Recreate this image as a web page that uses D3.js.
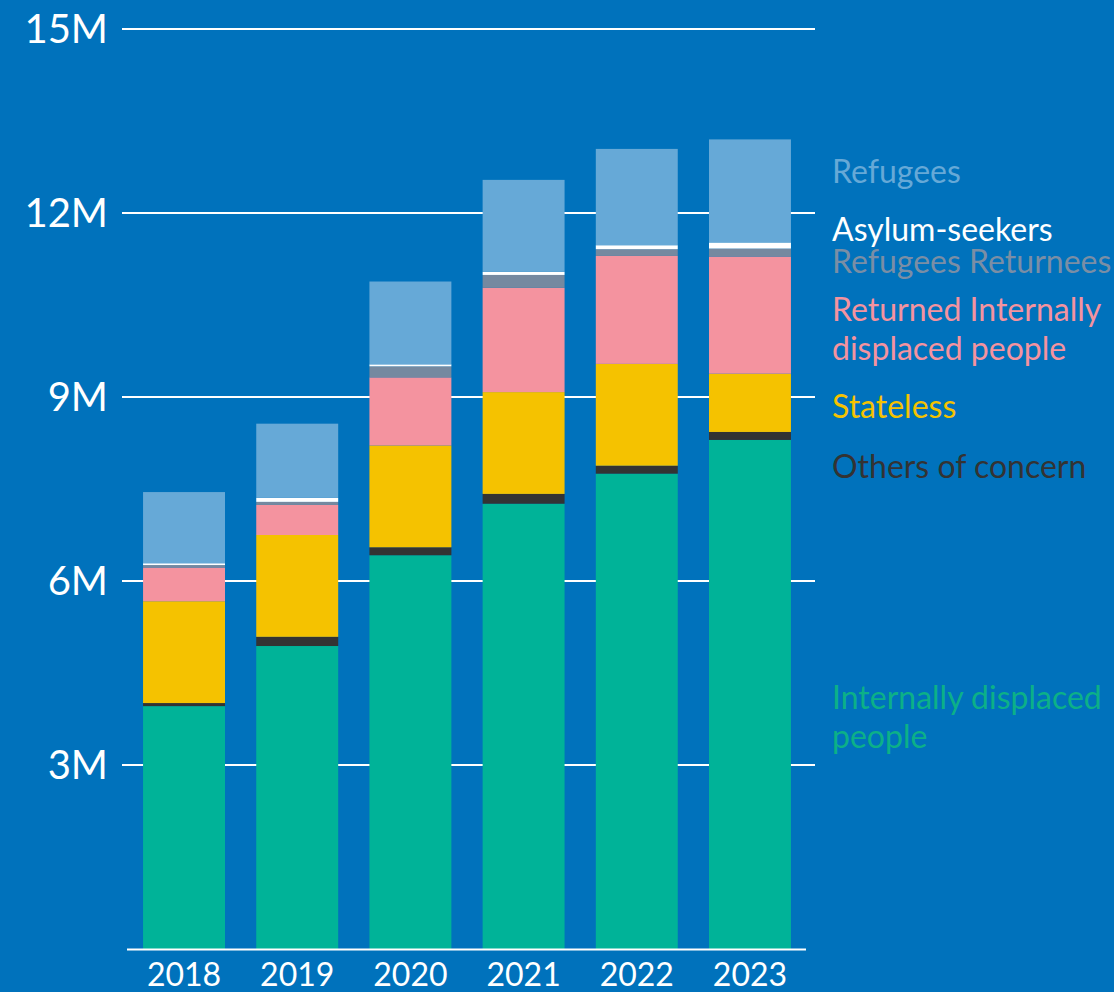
<!DOCTYPE html>
<html>
<head>
<meta charset="utf-8">
<script src="https://cdn.jsdelivr.net/npm/d3@7"></script>
<style>
  html, body { margin: 0; padding: 0; background: #0072BC; }
  svg { display: block; font-family: Lato, "Open Sans", sans-serif; }
</style>
</head>
<body>
<script>
// data (millions of people)
var years = ["2018", "2019", "2020", "2021", "2022", "2023"];
var idp = [3.96, 4.94, 6.42, 7.26, 7.75, 8.30];
var others = [0.05, 0.15, 0.13, 0.16, 0.13, 0.13];
var stateless = [1.66, 1.66, 1.66, 1.66, 1.66, 0.95];
var returnedIdp = [0.55, 0.49, 1.11, 1.70, 1.76, 1.91];
var refugeeReturnees = [0.04, 0.05, 0.18, 0.21, 0.11, 0.13];
var asylumSeekers = [0.03, 0.065, 0.033, 0.05, 0.065, 0.10];
var refugees = [1.16, 1.21, 1.35, 1.50, 1.57, 1.68];
var yTicks = [3, 6, 9, 12, 15];

var seriesKeys = ["idp", "others", "stateless", "returnedIdp", "refugeeReturnees", "asylumSeekers", "refugees"];
var seriesValues = [idp, others, stateless, returnedIdp, refugeeReturnees, asylumSeekers, refugees];
var fills = ["#00B398", "#333333", "#F5C200", "#F4939F", "#7589A0", "#FFFFFF", "#66A9D7"];

var legendItems = [
  { lines: ["Refugees"], color: "#66A9D7", y: 183 },
  { lines: ["Asylum-seekers"], color: "#FFFFFF", y: 241 },
  { lines: ["Refugees Returnees"], color: "#7A8EA5", y: 273 },
  { lines: ["Returned Internally", "displaced people"], color: "#F4939F", y: 321 },
  { lines: ["Stateless"], color: "#F5C200", y: 418 },
  { lines: ["Others of concern"], color: "#333333", y: 478 },
  { lines: ["Internally displaced", "people"], color: "#0CB088", y: 709 }
];

var width = 1114,
  height = 992;

var table = years.map(function (yr, i) {
  var row = { year: yr };
  seriesKeys.forEach(function (k, j) { row[k] = seriesValues[j][i]; });
  return row;
});

var stack = d3.stack().keys(seriesKeys);
var layers = stack(table);

var x = d3.scaleBand()
  .domain(years)
  .range([128, 806])
  .paddingInner(0.276)
  .paddingOuter(0.133);

var y = d3.scaleLinear()
  .domain([0, 15])
  .range([949, 29]);

var svg = d3.select("body").append("svg")
  .attr("width", width)
  .attr("height", height);

svg.append("rect")
  .attr("width", width)
  .attr("height", height)
  .attr("fill", "#0072BC");

// grid lines
var grid = svg.append("g");
grid.selectAll("line")
  .data(yTicks)
  .enter().append("line")
  .attr("x1", 122)
  .attr("x2", 815)
  .attr("y1", function (d) { return y(d); })
  .attr("y2", function (d) { return y(d); })
  .attr("stroke", "#FFFFFF")
  .attr("stroke-width", 2);

grid.selectAll("text")
  .data(yTicks)
  .enter().append("text")
  .attr("x", 108)
  .attr("y", function (d) { return y(d); })
  .attr("dy", "0.36em")
  .attr("text-anchor", "end")
  .attr("fill", "#FFFFFF")
  .style("font-size", "40px")
  .text(function (d) { return d + "M"; });

// bars
var layer = svg.selectAll(".layer")
  .data(layers)
  .enter().append("g")
  .attr("class", "layer")
  .attr("fill", function (d, i) { return fills[i]; });

layer.selectAll("rect")
  .data(function (d) { return d; })
  .enter().append("rect")
  .attr("x", function (d) { return x(d.data.year); })
  .attr("width", x.bandwidth())
  .attr("y", function (d) { return y(d[1]); })
  .attr("height", function (d) { return y(d[0]) - y(d[1]); });

// baseline
svg.append("line")
  .attr("x1", 127)
  .attr("x2", 806)
  .attr("y1", y(0) + 0.5)
  .attr("y2", y(0) + 0.5)
  .attr("stroke", "#FFFFFF")
  .attr("stroke-width", 2);

// x axis labels
svg.append("g").selectAll("text")
  .data(years)
  .enter().append("text")
  .attr("x", function (d) { return x(d) + x.bandwidth() / 2; })
  .attr("y", 986)
  .attr("text-anchor", "middle")
  .attr("fill", "#FFFFFF")
  .style("font-size", "32px")
  .text(function (d) { return d; });

// legend
var legend = svg.append("g").attr("transform", "translate(832,0)");
legendItems.forEach(function (item) {
  var t = legend.append("text")
    .attr("y", item.y)
    .attr("fill", item.color)
    .style("font-size", "32px");
  item.lines.forEach(function (line, i) {
    t.append("tspan")
      .attr("x", 0)
      .attr("dy", i === 0 ? 0 : 39)
      .text(line);
  });
});
</script>
</body>
</html>
